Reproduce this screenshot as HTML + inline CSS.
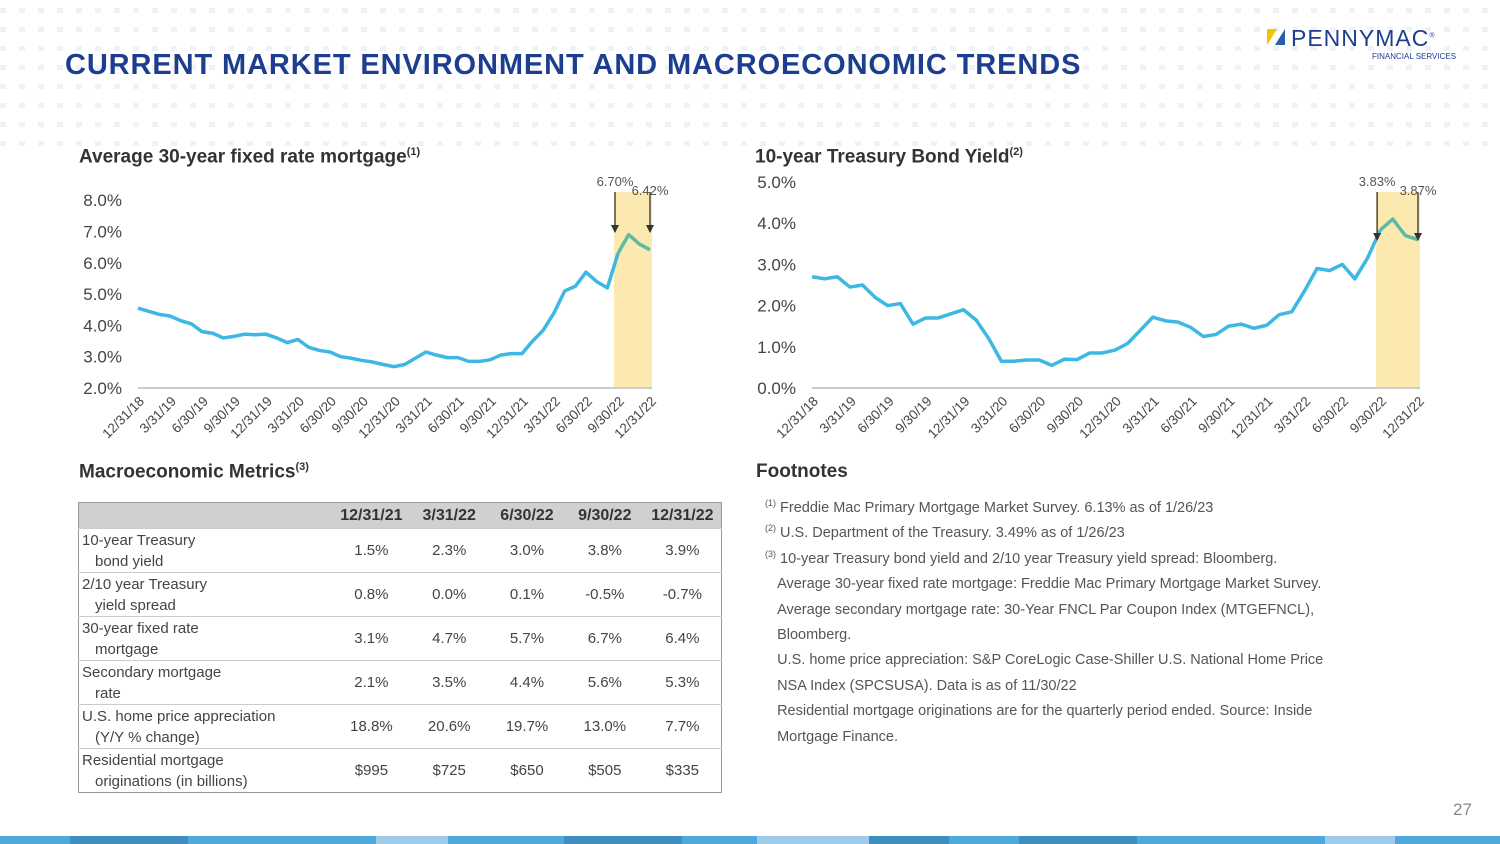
<!DOCTYPE html>
<html><head><meta charset="utf-8">
<style>
body{margin:0;width:1500px;height:844px;overflow:hidden;background:#fff;font-family:"Liberation Sans",sans-serif;position:relative}
.dots{position:absolute;left:0;top:8px;width:1500px;height:150px;
background-image:repeating-linear-gradient(90deg,#eef3fa 0 6px,transparent 6px 19px);
-webkit-mask:repeating-linear-gradient(180deg,#000 0 5px,transparent 5px 19px);mask:repeating-linear-gradient(180deg,#000 0 5px,transparent 5px 19px)}
.title{position:absolute;left:65px;top:49px;font-size:29px;font-weight:bold;color:#1d3d8f;letter-spacing:0.9px;white-space:nowrap}
.h{position:absolute;font-size:19px;font-weight:bold;color:#333}
.h sup{font-size:11px}
svg{position:absolute;left:0;top:0}
table{position:absolute;left:78px;top:502px;width:644px;border-collapse:collapse;font-size:15px;color:#444;border:1px solid #999;table-layout:fixed}
th{background:#d0d0d0;height:26px;padding:0;font-size:16px;color:#333;text-align:center;box-sizing:border-box}
td{height:44px;border-top:1px solid #ccc;text-align:center;padding:0;box-sizing:border-box}
td.l{text-align:left;padding-left:3px;line-height:21px}
td.l span{padding-left:13px}
.fn{position:absolute;left:765px;top:496px;font-size:14.5px;color:#555;line-height:25.4px}
.fn sup{font-size:9px;line-height:0}
.pg{position:absolute;left:1453px;top:800px;font-size:17px;color:#888}
.bar{position:absolute;left:0;top:836px;width:1500px;height:8px;display:flex}
</style></head><body>
<div class="dots"></div>
<div class="title">CURRENT MARKET ENVIRONMENT AND MACROECONOMIC TRENDS</div>
<div style="position:absolute;left:1267px;top:27px;">
 <div style="position:absolute;left:0;top:2px;width:0;height:0;border-left:10px solid #f2c300;border-bottom:16px solid transparent"></div>
 <div style="position:absolute;left:8px;top:2px;width:0;height:0;border-right:10px solid #2a5db0;border-top:16px solid transparent"></div>
 <div style="position:absolute;left:24px;top:-2px;font-size:23px;color:#1d3d8f;letter-spacing:1px;white-space:nowrap">PENNYMAC<sup style="font-size:7px">®</sup></div>
 <div style="position:absolute;left:105px;top:25px;font-size:8px;color:#1d3d8f;white-space:nowrap">FINANCIAL SERVICES</div>
</div>
<div class="h" style="left:79px;top:146px">Average 30-year fixed rate mortgage<sup>(1)</sup></div>
<div class="h" style="left:755px;top:146px">10-year Treasury Bond Yield<sup>(2)</sup></div>
<div class="h" style="left:79px;top:461px">Macroeconomic Metrics<sup>(3)</sup></div>
<div class="h" style="left:756px;top:461px">Footnotes</div>
<svg id="ch" width="1500" height="844"></svg>
<table>
<colgroup><col style="width:254px"><col><col><col><col><col></colgroup>
<tr><th></th><th>12/31/21</th><th>3/31/22</th><th>6/30/22</th><th>9/30/22</th><th>12/31/22</th></tr>
<tr><td class="l">10-year Treasury<br><span>bond yield</span></td><td>1.5%</td><td>2.3%</td><td>3.0%</td><td>3.8%</td><td>3.9%</td></tr>
<tr><td class="l">2/10 year Treasury<br><span>yield spread</span></td><td>0.8%</td><td>0.0%</td><td>0.1%</td><td>-0.5%</td><td>-0.7%</td></tr>
<tr><td class="l">30-year fixed rate<br><span>mortgage</span></td><td>3.1%</td><td>4.7%</td><td>5.7%</td><td>6.7%</td><td>6.4%</td></tr>
<tr><td class="l">Secondary mortgage<br><span>rate</span></td><td>2.1%</td><td>3.5%</td><td>4.4%</td><td>5.6%</td><td>5.3%</td></tr>
<tr><td class="l">U.S. home price appreciation<br><span>(Y/Y % change)</span></td><td>18.8%</td><td>20.6%</td><td>19.7%</td><td>13.0%</td><td>7.7%</td></tr>
<tr><td class="l">Residential mortgage<br><span>originations (in billions)</span></td><td>$995</td><td>$725</td><td>$650</td><td>$505</td><td>$335</td></tr>
</table>
<div class="fn">
<sup>(1)</sup> Freddie Mac Primary Mortgage Market Survey. 6.13% as of 1/26/23<br>
<sup>(2)</sup> U.S. Department of the Treasury. 3.49% as of 1/26/23<br>
<sup>(3)</sup> 10-year Treasury bond yield and 2/10 year Treasury yield spread: Bloomberg.<br>
&nbsp;&nbsp;&nbsp;Average 30-year fixed rate mortgage: Freddie Mac Primary Mortgage Market Survey.<br>
&nbsp;&nbsp;&nbsp;Average secondary mortgage rate: 30-Year FNCL Par Coupon Index (MTGEFNCL),<br>
&nbsp;&nbsp;&nbsp;Bloomberg.<br>
&nbsp;&nbsp;&nbsp;U.S. home price appreciation: S&amp;P CoreLogic Case-Shiller U.S. National Home Price<br>
&nbsp;&nbsp;&nbsp;NSA Index (SPCSUSA). Data is as of 11/30/22<br>
&nbsp;&nbsp;&nbsp;Residential mortgage originations are for the quarterly period ended. Source: Inside<br>
&nbsp;&nbsp;&nbsp;Mortgage Finance.
</div>
<div class="pg">27</div>
<div class="bar">
<div style="flex:70;background:#4fa8dc"></div><div style="flex:118;background:#3e8fc0"></div><div style="flex:188;background:#4fa8dc"></div><div style="flex:72;background:#9fcbea"></div><div style="flex:116;background:#4fa8dc"></div><div style="flex:118;background:#3e8fc0"></div><div style="flex:75;background:#4fa8dc"></div><div style="flex:112;background:#9fcbea"></div><div style="flex:80;background:#3e8fc0"></div><div style="flex:70;background:#4fa8dc"></div><div style="flex:118;background:#3e8fc0"></div><div style="flex:188;background:#4fa8dc"></div><div style="flex:70;background:#9fcbea"></div><div style="flex:105;background:#4fa8dc"></div>
</div>
<script>
const tickLabels=["12/31/18","3/31/19","6/30/19","9/30/19","12/31/19","3/31/20","6/30/20","9/30/20","12/31/20","3/31/21","6/30/21","9/30/21","12/31/21","3/31/22","6/30/22","9/30/22","12/31/22"];
const mortgageRates=[4.55,4.45,4.35,4.3,4.15,4.05,3.8,3.75,3.6,3.65,3.72,3.7,3.72,3.6,3.45,3.55,3.3,3.2,3.15,3.0,2.95,2.88,2.83,2.75,2.68,2.75,2.95,3.15,3.05,2.97,2.97,2.85,2.85,2.9,3.05,3.1,3.1,3.5,3.85,4.4,5.1,5.25,5.7,5.4,5.2,6.3,6.9,6.6,6.42];
const treasuryYields=[2.7,2.65,2.7,2.45,2.5,2.2,2.0,2.05,1.55,1.7,1.7,1.8,1.9,1.65,1.2,0.65,0.65,0.68,0.68,0.55,0.7,0.69,0.85,0.85,0.92,1.08,1.4,1.72,1.63,1.6,1.47,1.25,1.3,1.5,1.55,1.45,1.52,1.78,1.85,2.35,2.9,2.85,3.0,2.65,3.15,3.83,4.1,3.7,3.6];
const mortgageYTicks=[2,3,4,5,6,7,8];
const treasuryYTicks=[0,1,2,3,4,5];
const mortgageCallouts=[6.70,6.42];
const treasuryCallouts=[3.83,3.87];
const NS="http://www.w3.org/2000/svg";
const svg=document.getElementById('ch');
function mk(t,a,p){const e=document.createElementNS(NS,t);for(const k in a)e.setAttribute(k,a[k]);(p||svg).appendChild(e);return e;}
function draw(cfg){
 const {x0,x1,yBase,yMin,pxPer,data,yt,call,hiTop,name}=cfg;
 const X=i=>x0+(x1-x0)*i/(data.length-1);
 const Y=v=>yBase-(v-yMin)*pxPer;
 const n=data.length-1, hiStart=n-3;
 const hx=X(hiStart)-4;
 const hi=mk('rect',{x:hx,y:hiTop,width:X(n)+2-hx,height:yBase-hiTop,fill:'#fbe9b0'});
 
 
 const ax=mk('line',{x1:x0,x2:x1+2,y1:yBase,y2:yBase,stroke:'#ccc','stroke-width':2});
 
 
 yt.forEach(v=>{const t=mk('text',{x:x0-16,y:Y(v)+6,'text-anchor':'end','font-size':17,fill:'#444'});t.textContent=v.toFixed(1)+'%';
  
  });
 tickLabels.forEach((l,i)=>{const tx=x0+(x1-x0)*i/(tickLabels.length-1);const t=mk('text',{x:0,y:0,'text-anchor':'end','font-size':13.5,fill:'#444',transform:`translate(${tx+7},${yBase+14}) rotate(-45)`});t.textContent=l;
  
  });
 const p1=data.slice(0,hiStart+1).map((v,i)=>X(i)+','+Y(v)).join(' ');
 const l1=mk('polyline',{points:p1,fill:'none',stroke:'#3db8e3','stroke-width':3.5,'stroke-linejoin':'round'});
 
 
 const p2=data.slice(hiStart).map((v,i)=>X(i+hiStart)+','+Y(v)).join(' ');
 const l2=mk('polyline',{points:p2,fill:'none',stroke:'#5dbba3','stroke-width':3.5,'stroke-linejoin':'round'});
 
 
 [hiStart,n].forEach((idx,k)=>{const ax2=k?X(idx):hx+1;
  mk('line',{x1:ax2,x2:ax2,y1:hiTop,y2:cfg.arrowEnd,stroke:'#333','stroke-width':1.3});
  mk('path',{d:`M${ax2-4},${cfg.arrowEnd-7} L${ax2+4},${cfg.arrowEnd-7} L${ax2},${cfg.arrowEnd+1}Z`,fill:'#333'});
  const t=mk('text',{x:ax2,y:hiTop-6+(k?9:0),'text-anchor':'middle','font-size':13,fill:'#555'});t.textContent=call[k].toFixed(2)+'%';
  
  });
}
draw({x0:138,x1:650,yBase:388,yMin:2,pxPer:31.3,data:mortgageRates,yt:mortgageYTicks,call:mortgageCallouts,hiTop:192,arrowEnd:232,name:'mortgage'});
draw({x0:812,x1:1418,yBase:388,yMin:0,pxPer:41.2,data:treasuryYields,yt:treasuryYTicks,call:treasuryCallouts,hiTop:192,arrowEnd:240,name:'treasury'});
</script>
</body></html>
